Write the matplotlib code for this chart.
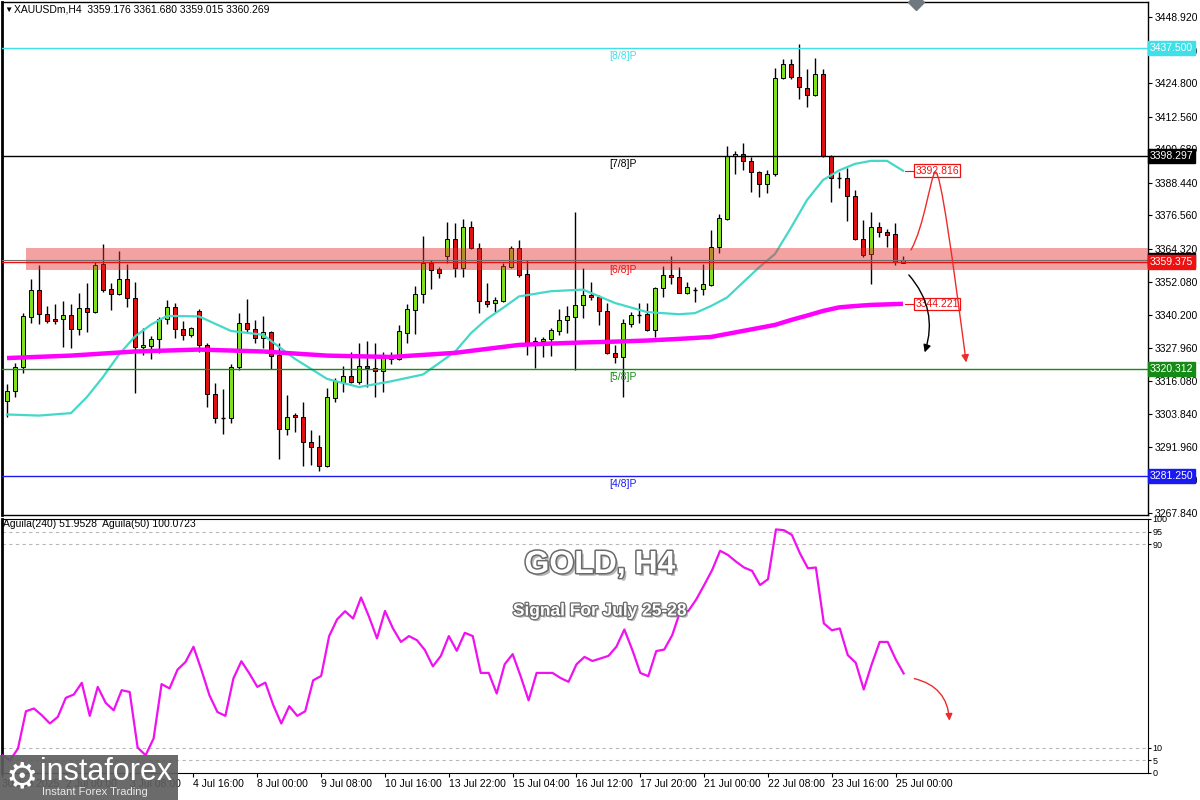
import numpy as np
import matplotlib.pyplot as plt
import matplotlib.patheffects as pe
from matplotlib.patches import Rectangle, FancyArrowPatch
from matplotlib.path import Path
from matplotlib.transforms import blended_transform_factory

plt.rcParams['font.family'] = ['Liberation Sans', 'DejaVu Sans']

# ---- H4 candles, 30 Jun 16:00 .. 25 Jul 04:00 ----
opens = [
    3308.8, 3312.5, 3321.2, 3339.5, 3349.3, 3340.5, 3338.6, 3338.6, 3340.1, 3334.9,
    3342.6, 3341.1, 3358.7, 3349.5, 3347.7, 3353.2, 3346.2, 3328.3, 3328.9, 3331.3,
    3338.6, 3343.2, 3334.9, 3332.7, 3341.5, 3329.1, 3311.2, 3302.4, 3302.4, 3321.0,
    3337.1, 3334.9, 3331.6, 3334.0, 3325.4, 3298.6, 3303.6, 3302.8, 3293.6, 3292.0,
    3285.1, 3309.7, 3315.8, 3317.9, 3315.8, 3321.5, 3320.7, 3319.8, 3325.2, 3324.0,
    3333.7, 3342.0, 3347.7, 3359.0, 3356.8, 3361.7, 3367.8, 3357.2, 3372.1, 3364.5,
    3345.1, 3344.4, 3345.3, 3357.5, 3364.5, 3355.0, 3329.2, 3330.5, 3331.3, 3334.4,
    3338.3, 3339.3, 3343.8, 3347.4, 3346.6, 3341.7, 3326.1, 3324.7, 3336.7, 3340.3,
    3340.5, 3334.6, 3349.9, 3354.7, 3354.1, 3348.3, 3349.3, 3349.6, 3351.1, 3364.8,
    3375.2, 3398.2, 3398.9, 3396.5, 3392.4, 3387.8, 3391.5, 3426.5, 3431.7, 3427.1,
    3422.9, 3420.5, 3428.0, 3398.2, 3390.0, 3390.0, 3383.7, 3367.8, 3362.3, 3372.4,
    3370.5, 3369.6, 3359.176]
highs = [
    3314.9, 3322.7, 3340.9, 3353.3, 3358.5, 3343.4, 3344.1, 3345.3, 3344.1, 3348.3,
    3351.7, 3359.6, 3365.9, 3351.7, 3363.6, 3358.6, 3352.3, 3335.3, 3332.5, 3339.3,
    3345.6, 3344.6, 3338.0, 3335.9, 3342.2, 3329.8, 3315.4, 3313.0, 3322.1, 3340.7,
    3346.1, 3338.3, 3339.8, 3334.3, 3329.8, 3310.9, 3304.5, 3308.5, 3298.1, 3296.2,
    3313.4, 3317.0, 3321.5, 3326.6, 3330.0, 3330.6, 3329.8, 3326.7, 3326.7, 3336.5,
    3344.1, 3350.7, 3369.0, 3360.2, 3357.8, 3374.1, 3373.6, 3375.1, 3374.6, 3366.5,
    3351.7, 3346.8, 3359.0, 3365.3, 3367.5, 3360.2, 3332.2, 3332.2, 3335.3, 3342.2,
    3343.4, 3377.8, 3357.2, 3352.3, 3347.4, 3344.4, 3329.2, 3338.6, 3341.3, 3344.4,
    3344.4, 3350.5, 3358.0, 3361.7, 3357.8, 3352.3, 3350.5, 3358.7, 3371.2, 3377.0,
    3401.8, 3400.0, 3402.8, 3397.9, 3392.6, 3393.1, 3430.4, 3433.6, 3433.6, 3439.0,
    3429.9, 3433.8, 3429.9, 3398.4, 3392.4, 3393.7, 3385.8, 3374.8, 3377.6, 3374.0,
    3371.4, 3373.6, 3361.680]
lows = [
    3303.0, 3310.1, 3319.1, 3337.2, 3336.8, 3337.1, 3336.8, 3328.6, 3328.0, 3332.8,
    3334.0, 3341.0, 3348.6, 3342.0, 3347.5, 3343.2, 3311.5, 3325.5, 3324.0, 3326.1,
    3336.7, 3331.6, 3331.0, 3332.2, 3326.7, 3306.6, 3300.8, 3296.7, 3300.6, 3320.0,
    3334.0, 3329.8, 3328.0, 3320.3, 3287.4, 3296.2, 3297.5, 3285.1, 3285.4, 3283.3,
    3284.8, 3308.2, 3311.9, 3315.2, 3314.9, 3314.0, 3310.3, 3312.1, 3322.2, 3323.8,
    3329.8, 3333.1, 3344.4, 3349.5, 3353.7, 3359.2, 3353.9, 3353.9, 3364.1, 3341.0,
    3343.2, 3341.3, 3345.0, 3357.2, 3354.1, 3325.5, 3320.7, 3324.9, 3325.2, 3332.8,
    3333.4, 3320.0, 3338.9, 3345.6, 3336.5, 3325.9, 3322.7, 3310.1, 3335.6, 3337.3,
    3334.4, 3332.0, 3346.6, 3351.4, 3348.1, 3347.8, 3345.0, 3347.4, 3350.8, 3362.7,
    3374.8, 3391.5, 3393.1, 3385.1, 3383.3, 3384.6, 3391.0, 3426.3, 3426.3, 3419.0,
    3416.2, 3420.2, 3397.9, 3381.5, 3386.4, 3374.4, 3367.5, 3361.4, 3351.3, 3368.7,
    3365.1, 3358.4, 3359.015]
closes = [
    3312.5, 3321.2, 3339.8, 3349.3, 3340.4, 3338.0, 3338.0, 3340.0, 3334.9, 3342.7,
    3341.1, 3358.4, 3349.3, 3347.7, 3353.2, 3346.2, 3328.3, 3329.1, 3331.3, 3338.6,
    3343.2, 3334.9, 3332.7, 3335.4, 3329.1, 3311.2, 3302.4, 3302.5, 3321.0, 3337.1,
    3334.9, 3331.6, 3334.0, 3325.2, 3298.4, 3303.0, 3302.8, 3293.6, 3292.0, 3285.1,
    3310.1, 3316.0, 3317.9, 3315.8, 3321.5, 3320.7, 3319.8, 3325.2, 3324.0, 3334.3,
    3342.2, 3347.7, 3359.0, 3356.6, 3355.4, 3367.8, 3357.2, 3372.1, 3364.5, 3345.4,
    3344.1, 3345.6, 3358.0, 3364.7, 3354.7, 3329.5, 3330.5, 3331.4, 3334.6, 3338.3,
    3339.8, 3343.8, 3347.4, 3346.6, 3341.7, 3326.1, 3324.7, 3337.1, 3340.1, 3340.1,
    3334.6, 3349.9, 3354.7, 3353.9, 3348.3, 3350.5, 3349.3, 3351.4, 3364.8, 3375.6,
    3398.2, 3398.9, 3396.5, 3392.4, 3388.0, 3391.5, 3426.5, 3431.7, 3427.1, 3423.3,
    3420.5, 3428.0, 3398.2, 3390.0, 3390.2, 3383.7, 3367.8, 3362.0, 3372.4, 3370.5,
    3369.3, 3359.4, 3360.269]

# moving averages (read at selected bars)
fast_ma_bar = [0, 4, 8, 10, 12, 14, 16, 18, 20, 24, 28, 32, 36, 40, 44, 48, 52, 56, 58,
               60, 62, 64, 68, 72, 76, 80, 84, 86, 88, 90, 92, 94, 96, 98, 100, 102, 104,
               106, 108, 110, 112]
fast_ma = [3303.8, 3303.4, 3304.3, 3310.2, 3317.5, 3325.7, 3332.3, 3336.6, 3339.8, 3339.6,
           3334.3, 3332.9, 3324.1, 3316.8, 3313.8, 3315.9, 3318.4, 3326.7, 3333.5,
           3338.7, 3342.7, 3346.9, 3348.8, 3349.4, 3344.5, 3341.2, 3340.4, 3340.8, 3343.4,
           3346.5, 3352.0, 3357.5, 3362.4, 3372.0, 3382.1, 3389.4, 3392.9,
           3395.3, 3396.4, 3396.4, 3392.8]
slow_ma_bar = [0, 8, 16, 24, 32, 40, 48, 56, 64, 68, 72, 76, 80, 84, 88, 92, 96, 98,
               100, 102, 104, 106, 108, 112]
slow_ma = [3324.4, 3325.3, 3326.8, 3327.5, 3326.8, 3325.3, 3324.8, 3326.3, 3329.2, 3329.7,
           3330.1, 3330.4, 3330.8, 3331.4, 3332.1, 3334.3, 3336.5, 3338.3,
           3339.9, 3341.6, 3342.9, 3343.4, 3343.8, 3344.2]

# Aguila(50) oscillator, bar -1 .. 112
aguila = [7.0,
          5.0, 9.6, 24.3, 25.4, 22.7, 19.5, 22.1, 29.6, 30.9, 35.5,
          22.5, 33.9, 27.6, 24.7, 32.6, 31.9, 10.0, 7.0, 13.6, 35.0,
          33.3, 40.7, 43.7, 49.7, 40.5, 30.6, 24.0, 22.5, 37.2, 44.0,
          39.2, 33.9, 35.6, 26.7, 19.5, 26.3, 22.5, 24.3, 36.5, 38.2,
          53.9, 60.5, 63.7, 60.8, 69.1, 61.5, 53.0, 63.8, 56.9, 51.6,
          53.9, 52.3, 48.4, 42.0, 46.1, 53.9, 48.1, 55.2, 53.9, 39.4,
          39.4, 31.3, 42.8, 46.8, 38.1, 28.6, 39.4, 39.4, 39.4, 37.4,
          35.9, 42.8, 45.7, 44.1, 45.1, 46.1, 49.7, 56.5, 48.4, 39.4,
          38.1, 48.0, 48.6, 54.3, 63.7, 63.7, 68.3, 74.0, 79.9, 87.5,
          85.8, 83.2, 80.9, 79.6, 74.0, 76.3, 95.9, 95.6, 93.7, 86.5,
          80.6, 80.9, 58.9, 56.2, 56.9, 46.4, 43.4, 32.9, 42.8, 51.6,
          51.6, 44.8, 39.2]

# Murrey levels
levels = [3437.500, 3398.297, 3359.375, 3320.312, 3281.250]
level_names = ['[8/8]P', '[7/8]P', '[6/8]P', '[5/8]P', '[4/8]P']
level_colors = ['#3fe0e8', '#000000', '#ee1111', '#168a16', '#1a1af0']
zone = (3356.55, 3364.6)
bid = 3360.269
ma_labels = [3392.816, 3344.221]

price_ticks = [3448.920, 3436.680, 3424.800, 3412.560, 3400.680, 3388.440, 3376.560, 3364.320,
               3352.080, 3340.200, 3327.960, 3316.080, 3303.840, 3291.960, 3279.720, 3267.840]
date_bars = [-1, 7, 15, 23, 31, 39, 47, 55, 63, 71, 79, 87, 95, 103, 111]
date_labels = ['30 Jun 2025', '2 Jul 00:00', '3 Jul 08:00', '4 Jul 16:00', '8 Jul 00:00',
               '9 Jul 08:00', '10 Jul 16:00', '13 Jul 22:00', '15 Jul 04:00', '16 Jul 12:00',
               '17 Jul 20:00', '21 Jul 00:00', '22 Jul 08:00', '23 Jul 16:00', '25 Jul 00:00']

fig = plt.figure(figsize=(12, 8), dpi=100)
ax = fig.add_axes([2 / 1200, 1 - 515 / 800, 1146 / 1200, 513 / 800])
ax2 = fig.add_axes([2 / 1200, 1 - 773 / 800, 1146 / 1200, 254 / 800])
xlim = (-0.625, 142.625)

# ---- candles ----
o, h, l, c = map(np.array, (opens, highs, lows, closes))
bars = np.arange(len(o))
doji = np.abs(c - o) < 0.3
up = (c > o) & ~doji
dn = (c < o) & ~doji
ax.vlines(bars, l, h, color='black', lw=1, zorder=2)
ax.bar(bars[up], (c - o)[up], bottom=o[up], width=0.62, color='#80e020',
       edgecolor='black', lw=0.7, zorder=3)
ax.bar(bars[dn], (o - c)[dn], bottom=c[dn], width=0.62, color='#e01010',
       edgecolor='black', lw=0.7, zorder=3)
ax.hlines(o[doji], bars[doji] - 0.31, bars[doji] + 0.31, color='black', lw=1, zorder=3)

ax.plot(fast_ma_bar, fast_ma, color='#45d8c8', lw=1.6, zorder=4)
ax.plot(slow_ma_bar, slow_ma, color='#ff00ff', lw=3.2, zorder=4, solid_capstyle='butt')

# levels
for val, name, col in zip(levels, level_names, level_colors):
    ax.axhline(val, color=col, lw=1, zorder=6)
    ax.text(77, val - 1.1, name, color=col, fontsize=7.5, ha='center', va='top', zorder=7)
ax.axhline(bid, color='#707070', lw=0.8, zorder=6)

ax.add_patch(Rectangle((2.375, zone[0]), xlim[1] - 2.375, zone[1] - zone[0],
                       facecolor='#e83030', alpha=0.45, lw=0, zorder=5))

# right-hand price boxes
tr = blended_transform_factory(ax.transAxes, ax.transData)
box_x = 1.0017
ax.text(box_x, bid, '3360.269', transform=tr, color='white', fontsize=7.5, ha='left',
        va='center', clip_on=False, zorder=10,
        bbox=dict(boxstyle='square,pad=0.18', fc='black', ec='black'))
box_labels = ['3437.500', '3398.297', '3359.375', '3320.312', '3281.250']
for val, txt, col in zip(levels, box_labels, level_colors):
    ax.text(box_x, val, txt, transform=tr, color='white', fontsize=7.5, ha='left',
            va='center', clip_on=False, zorder=11,
            bbox=dict(boxstyle='square,pad=0.18', fc=col, ec=col))

# MA value labels
for val in ma_labels:
    ax.plot([112.2, 113.5], [val, val], color='#ee1111', lw=0.8, zorder=6)
    ax.text(113.55, val, f'{val:.3f}', color='#ee1111', fontsize=7.5, ha='left', va='center',
            zorder=8, bbox=dict(boxstyle='square,pad=0.12', fc='white', ec='#ee1111', lw=0.9))

# forecast arrows
verts = [(113.0, 3363.9), (114.6, 3372.0), (115.5, 3391.0), (116.0, 3392.3),
         (116.7, 3394.0), (118.3, 3358.0), (119.9, 3322.8)]
codes = [Path.MOVETO, Path.CURVE4, Path.CURVE4, Path.CURVE4,
         Path.CURVE4, Path.CURVE4, Path.CURVE4]
ax.add_patch(FancyArrowPatch(path=Path(verts, codes), arrowstyle='-|>', mutation_scale=11,
                             color='#ee2a2a', lw=1, zorder=8))
ax.add_patch(FancyArrowPatch((112.5, 3355.5), (114.6, 3325.5), connectionstyle='arc3,rad=-0.3',
                             arrowstyle='-|>', mutation_scale=11, color='black', lw=1, zorder=8))

ax.plot([113.6], [3454.4], marker='D', ms=8, color='#707880', clip_on=False, zorder=9)

ax.set_xlim(*xlim)
ax.set_ylim(3267.1, 3454.4)
ax.set_xticks([])
ax.yaxis.tick_right()
ax.set_yticks(price_ticks)
ax.set_yticklabels([f'{v:.3f}' for v in price_ticks])
ax.tick_params(axis='y', labelsize=7.5, length=3, pad=2)
for s in ax.spines.values():
    s.set_linewidth(1)
ax.spines['left'].set_linewidth(2)

# ---- oscillator panel ----
ax2.plot(np.arange(-1, len(aguila) - 1), aguila, color='#f010f0', lw=1.6, zorder=3)
for lvl in (95, 90, 10, 5):
    ax2.axhline(lvl, color='#b8b8b8', lw=0.8, ls=(0, (3, 3)), zorder=1)
ax2.add_patch(FancyArrowPatch((113.0, 37.4), (117.75, 19.5), connectionstyle='arc3,rad=-0.4',
                              arrowstyle='-|>', mutation_scale=10, color='#ee2a2a', lw=1, zorder=5))
ax2.set_xlim(*xlim)
ax2.set_ylim(0, 100)
ax2.yaxis.tick_right()
ax2.set_yticks([0, 5, 10, 90, 95, 100])
ax2.tick_params(axis='y', labelsize=6.5, length=2, pad=1)
ax2.set_xticks(date_bars)
ax2.set_xticklabels(date_labels, fontsize=7.5)
for t in ax2.get_xticklabels():
    t.set_horizontalalignment('left')
ax2.tick_params(axis='x', length=3, pad=1)
ax2.spines['left'].set_linewidth(2)

fig.text(600 / 1200, 1 - 565 / 800, 'GOLD, H4', ha='center', va='center',
         fontsize=23, fontweight='bold', color='white', zorder=10,
         path_effects=[pe.withSimplePatchShadow(offset=(2, -2), shadow_rgbFace='#888888', alpha=0.6),
                       pe.Stroke(linewidth=2.2, foreground='#6a6a6a'), pe.Normal()])
fig.text(600 / 1200, 1 - 611 / 800, 'Signal For July 25-28', ha='center', va='center',
         fontsize=12.5, fontweight='bold', color='white', zorder=10,
         path_effects=[pe.withSimplePatchShadow(offset=(1.5, -1.5), shadow_rgbFace='#888888', alpha=0.6),
                       pe.Stroke(linewidth=1.8, foreground='#6a6a6a'), pe.Normal()])

# header texts
fig.text(4 / 1200, 1 - 10 / 800, '▼', fontsize=6, va='center', ha='left')
fig.text(14 / 1200, 1 - 10 / 800, 'XAUUSDm,H4  3359.176 3361.680 3359.015 3360.269',
         fontsize=7.5, va='center', ha='left')
fig.text(3 / 1200, 1 - 524 / 800, 'Aguila(240) 51.9528  Aguila(50) 100.0723',
         fontsize=7.5, va='center', ha='left')

# logo
fig.add_artist(Rectangle((0, 0), 178 / 1200, 45 / 800, transform=fig.transFigure,
                         facecolor='#5e5e5e', alpha=0.92, lw=0, zorder=20))
fig.text(22 / 1200, 1 - 777 / 800, '⚙', family='DejaVu Sans', fontsize=26, color='white',
         ha='center', va='center', zorder=21)
fig.text(40 / 1200, 1 - 772 / 800, 'instaforex', fontsize=22, color='white',
         ha='left', va='center', zorder=21)
fig.text(42 / 1200, 1 - 792 / 800, 'Instant Forex Trading', fontsize=8, color='#e8e8e8',
         ha='left', va='center', zorder=21)

fig.savefig('out.png', dpi=100)
